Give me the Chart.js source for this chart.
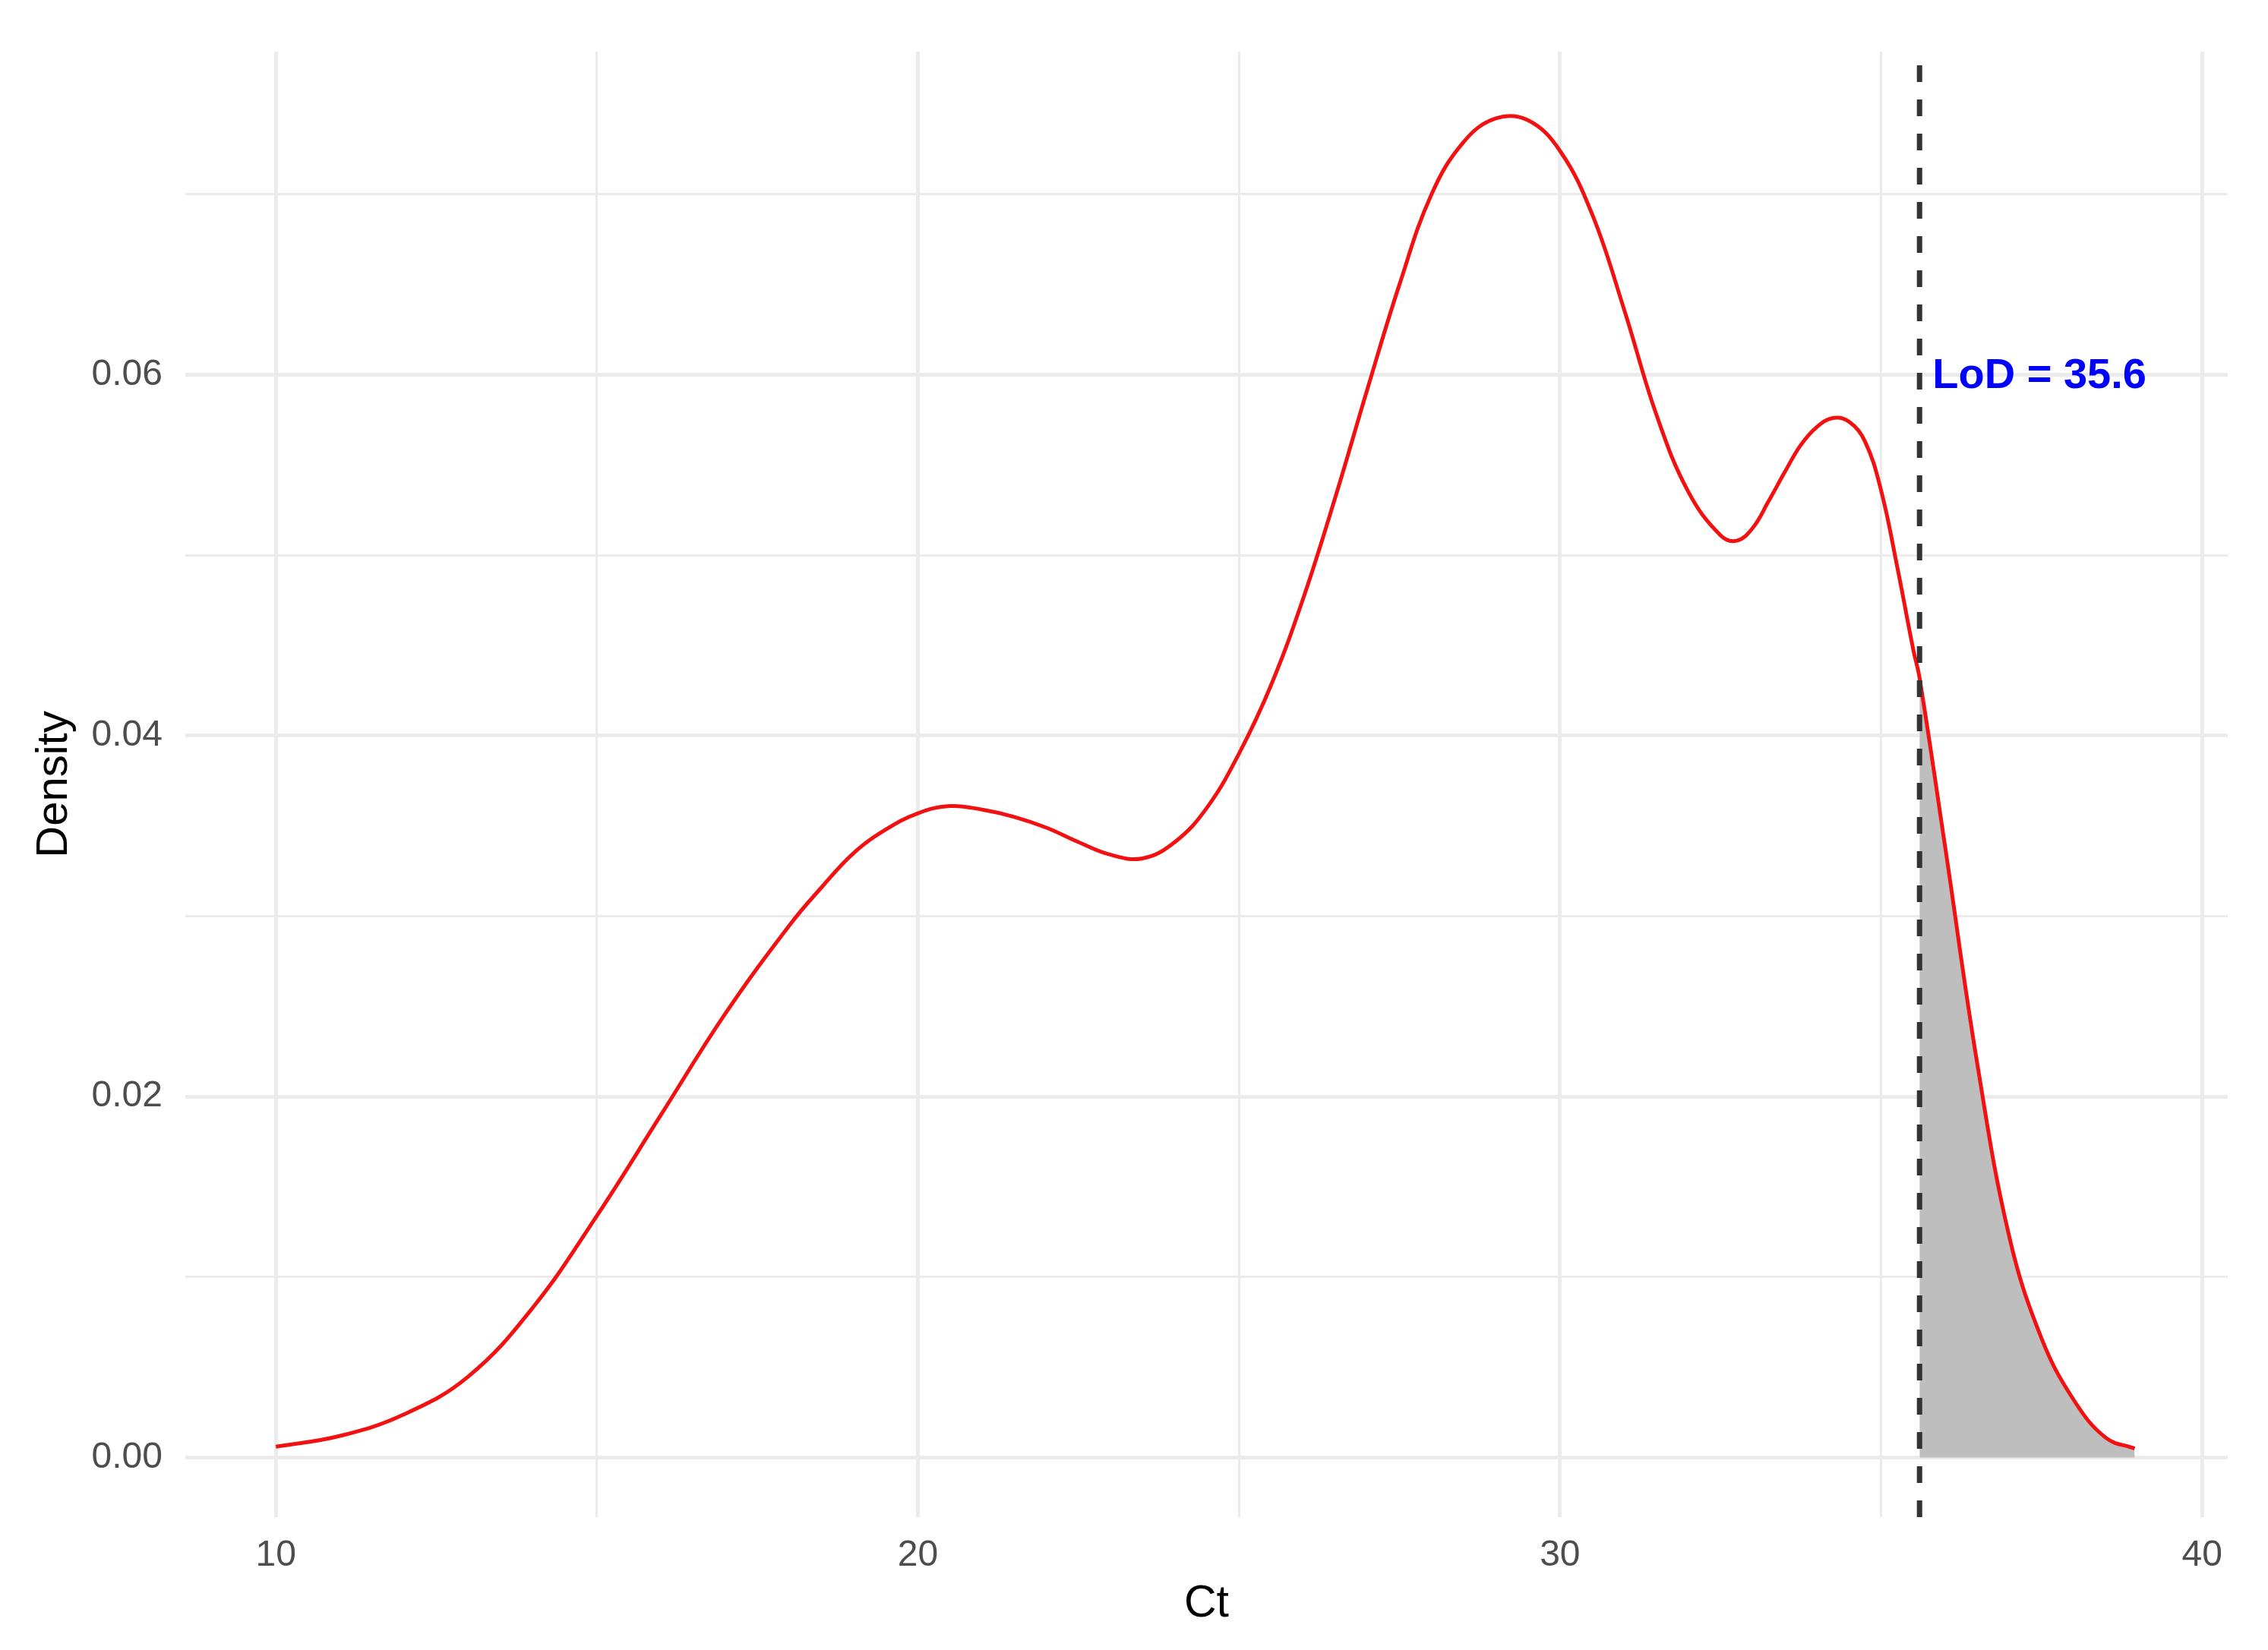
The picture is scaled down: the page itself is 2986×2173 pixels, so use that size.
<!DOCTYPE html>
<html>
<head>
<meta charset="utf-8">
<script src="https://cdn.jsdelivr.net/npm/chart.js@4.4.1/dist/chart.umd.min.js"></script>
<style>
  html, body { margin: 0; padding: 0; background: #ffffff; }
  #densityChart { display: block; }
</style>
</head>
<body>
<canvas id="densityChart" width="2986" height="2173"></canvas>
<script>
// Ct values, with the density at each
const ctValues = [10, 11, 12, 13, 14, 15, 16, 17, 18, 18.5, 19, 19.5, 20, 20.5, 21, 21.5, 22, 22.5, 23, 23.5, 24, 24.5, 25, 25.5, 26, 26.5, 27, 27.5, 28, 28.5, 29, 29.5, 30, 30.5, 31, 31.5, 32, 32.5, 32.75, 33, 33.25, 33.5, 33.75, 34, 34.25, 34.5, 34.75, 35, 35.25, 35.5, 35.6, 36, 36.5, 37, 37.5, 38, 38.5, 38.95];
const densities = [0.0006, 0.0012, 0.0024, 0.0045, 0.0083, 0.0134, 0.0190, 0.0246, 0.0295, 0.0316, 0.0335, 0.0348, 0.0357, 0.0361, 0.0359, 0.0355, 0.0349, 0.0341, 0.0334, 0.0332, 0.0341, 0.0360, 0.0390, 0.0428, 0.0476, 0.0532, 0.0592, 0.0650, 0.0700, 0.0729, 0.0742, 0.0741, 0.0724, 0.0689, 0.0636, 0.0578, 0.0535, 0.0511, 0.0508, 0.0515, 0.0530, 0.0546, 0.0561, 0.0571, 0.0576, 0.0574, 0.0563, 0.0536, 0.0494, 0.0448, 0.0432, 0.0338, 0.0218, 0.0122, 0.0066, 0.0032, 0.0011, 0.0005];

const lod = 35.6;
const lodLabel = 'LoD = 35.6';
const labelY = 0.06;

const xTicks = [10, 20, 30, 40];
const yTicks = [0.00, 0.02, 0.04, 0.06];

const xMin = 8.59, xMax = 40.4;
const yMin = -0.0033, yMax = 0.0779;

const curve = ctValues.map((c, i) => ({ x: c, y: densities[i] }));
const tail = curve.filter(p => p.x >= lod);

function isMajor(v, list) {
    return list.some(t => Math.abs(t - v) < 1e-9);
}

const lodText = {
    id: 'lodText',
    afterDatasetsDraw(chart) {
        const ctx = chart.ctx;
        const x = chart.scales.x.getPixelForValue(lod) + 17;
        const y = chart.scales.y.getPixelForValue(labelY);
        ctx.save();
        ctx.font = 'bold 56px "Liberation Sans", Arial, sans-serif';
        ctx.fillStyle = '#0000ff';
        ctx.textAlign = 'left';
        ctx.textBaseline = 'middle';
        ctx.fillText(lodLabel, x, y + 2);
        ctx.restore();
    }
};

const chart = new Chart(document.getElementById('densityChart').getContext('2d'), {
    type: 'line',
    data: {
        datasets: [
            {
                label: 'tail',
                data: tail,
                borderWidth: 0,
                borderColor: 'rgba(0,0,0,0)',
                backgroundColor: '#bebebe',
                fill: 'origin',
                pointRadius: 0,
                tension: 0.4,
                order: 3
            },
            {
                label: 'density',
                data: curve,
                borderColor: '#f21010',
                borderWidth: 5,
                fill: false,
                pointRadius: 0,
                tension: 0.4,
                order: 2
            },
            {
                label: 'lod',
                data: [{ x: lod, y: yMin }, { x: lod, y: yMax }],
                borderColor: '#333333',
                borderWidth: 7,
                borderDash: [22, 23],
                fill: false,
                pointRadius: 0,
                order: 1
            }
        ]
    },
    options: {
        responsive: false,
        animation: false,
        devicePixelRatio: 1,
        layout: { padding: { top: 68, right: 53, left: 0, bottom: 0 } },
        plugins: {
            legend: { display: false },
            tooltip: { enabled: false }
        },
        scales: {
            x: {
                type: 'linear',
                min: xMin,
                max: xMax,
                afterFit(scale) { scale.height = 175; },
                border: { display: false },
                grid: {
                    color: '#ebebeb',
                    drawTicks: false,
                    lineWidth: ctx => (ctx.tick && isMajor(ctx.tick.value, xTicks)) ? 5 : 3
                },
                ticks: {
                    stepSize: 5,
                    includeBounds: false,
                    autoSkip: false,
                    maxRotation: 0,
                    padding: 22,
                    color: '#4d4d4d',
                    font: { family: '"Liberation Sans", Arial, sans-serif', size: 48 },
                    callback: v => isMajor(v, xTicks) ? String(v) : ''
                },
                title: {
                    display: true,
                    text: 'Ct',
                    color: '#000000',
                    font: { family: '"Liberation Sans", Arial, sans-serif', size: 59 },
                    padding: { top: 0, bottom: 25 }
                }
            },
            y: {
                type: 'linear',
                min: yMin,
                max: yMax,
                afterFit(scale) { scale.width = 244; },
                border: { display: false },
                grid: {
                    color: '#ebebeb',
                    drawTicks: false,
                    lineWidth: ctx => (ctx.tick && isMajor(ctx.tick.value, yTicks)) ? 5 : 3
                },
                ticks: {
                    stepSize: 0.01,
                    includeBounds: false,
                    autoSkip: false,
                    padding: 30,
                    color: '#4d4d4d',
                    font: { family: '"Liberation Sans", Arial, sans-serif', size: 48 },
                    callback: v => isMajor(v, yTicks) ? v.toFixed(2) : ''
                },
                title: {
                    display: true,
                    text: 'Density',
                    color: '#000000',
                    font: { family: '"Liberation Sans", Arial, sans-serif', size: 58 },
                    padding: { top: 37, bottom: 0 }
                }
            }
        }
    },
    plugins: [lodText]
});
</script>
</body>
</html>
